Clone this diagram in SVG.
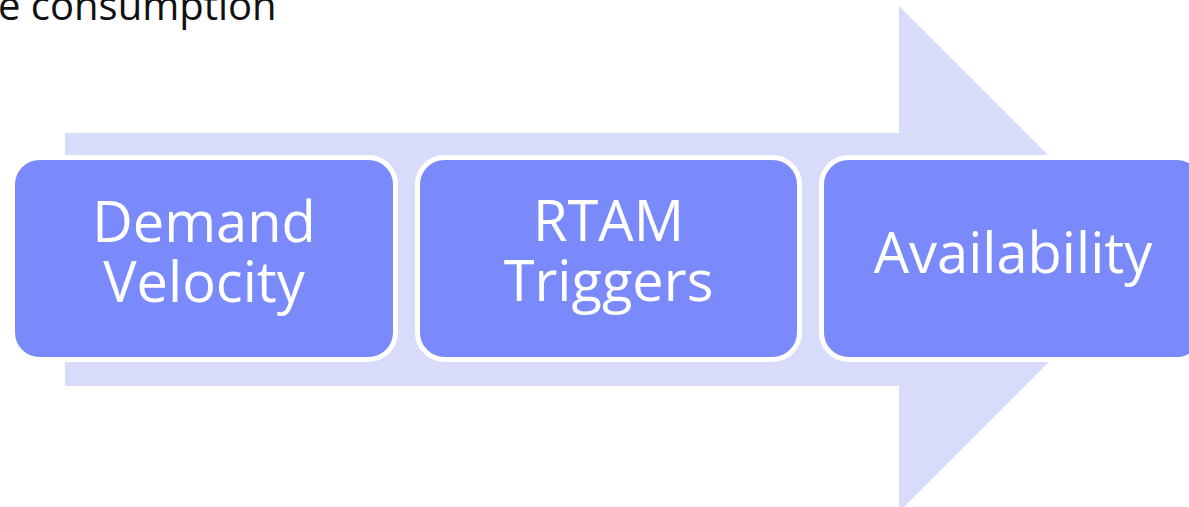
<svg xmlns="http://www.w3.org/2000/svg" width="1189" height="507" viewBox="0 0 1189 507">
  <style>
    .step { fill: #7A8AFA; stroke: #FFFFFF; stroke-width: 5; }
    .label { fill: #FFFFFF; font-family: "Open Sans", "Noto Sans", sans-serif; font-size: 56px; text-anchor: middle; }
    .caption { fill: #111111; font-family: "Open Sans", "Noto Sans", sans-serif; font-size: 40px; }
  </style>
  <rect width="1189" height="507" fill="#FFFFFF"/>

  <!-- caption fragment at the top edge -->
  <text class="caption" x="-2" y="20">e consumption</text>

  <!-- broad background arrow -->
  <g id="connectors">
    <polygon points="65,133 899,133 899,6 1152,259 899,512 899,386 65,386" fill="#D8DBFA"/>
  </g>

  <!-- process steps -->
  <g id="step-demand-velocity">
    <rect class="step" x="12.5" y="157.5" width="383" height="202" rx="27"/>
    <text class="label" x="204" y="242"><tspan x="204">Demand</tspan><tspan x="204" dy="60">Velocity</tspan></text>
  </g>
  <g id="step-rtam-triggers">
    <rect class="step" x="417.5" y="157.5" width="382" height="202" rx="27"/>
    <text class="label" x="608.5" y="241"><tspan x="608.5">RTAM</tspan><tspan x="608.5" dy="60">Triggers</tspan></text>
  </g>
  <g id="step-availability">
    <rect class="step" x="821.5" y="157.5" width="382" height="202" rx="27"/>
    <text class="label" x="1013" y="273">Availability</text>
  </g>
</svg>
